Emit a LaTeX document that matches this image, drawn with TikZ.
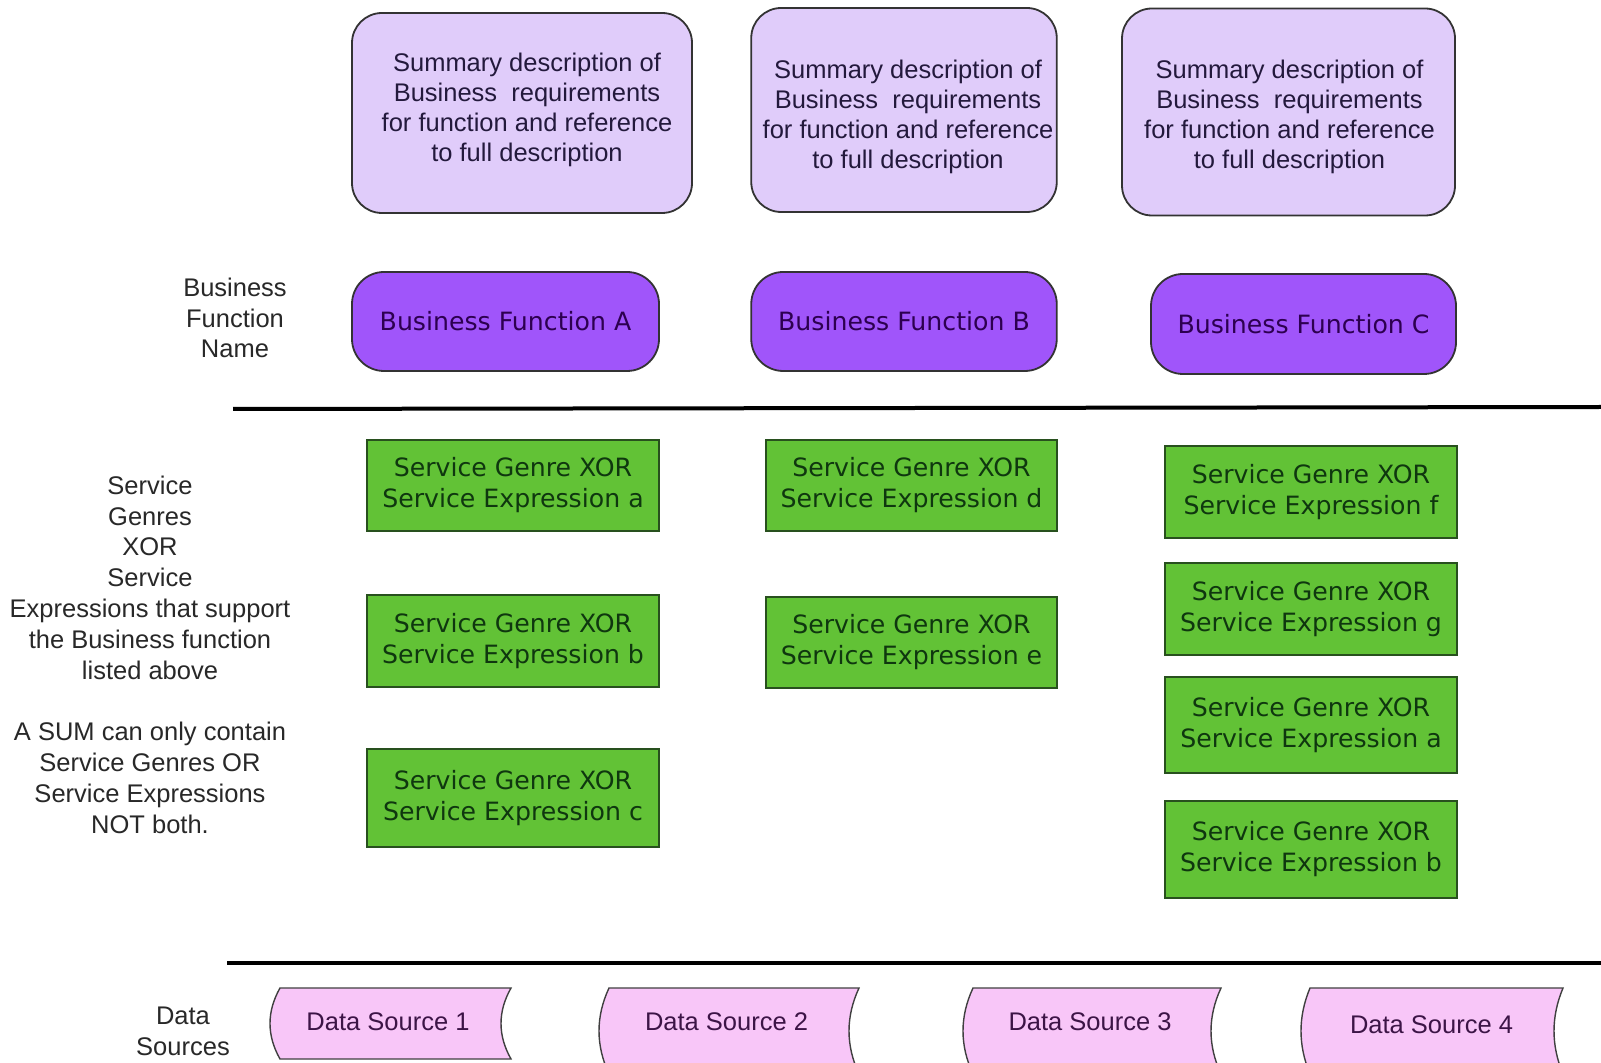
\documentclass[tikz,border=0pt]{standalone}
\usepackage{fontspec}
\setmainfont{Liberation Sans}
\newfontfamily\verd{DejaVu Sans}
\definecolor{topfill}{RGB}{224,204,250}
\definecolor{toptext}{RGB}{35,25,60}
\definecolor{bffill}{RGB}{160,85,250}
\definecolor{bftext}{RGB}{45,0,80}
\definecolor{gfill}{RGB}{98,194,54}
\definecolor{gdraw}{RGB}{40,80,30}
\definecolor{gtext}{RGB}{15,55,15}
\definecolor{dsfill}{RGB}{248,198,248}
\definecolor{dstext}{RGB}{60,20,70}
\definecolor{lefttext}{RGB}{40,40,40}
\newcommand\dsshape[5]{%
  \filldraw[dsline] (#1,#3) -- (#2,#3)
    .. controls ({#2-#5*4/3},{#3+(#4-#3)/3}) and ({#2-#5*4/3},{#4-(#4-#3)/3}) .. (#2,#4)
    -- (#1,#4)
    .. controls ({#1-#5*4/3},{#4-(#4-#3)/3}) and ({#1-#5*4/3},{#3+(#4-#3)/3}) .. cycle;}
\begin{document}
\begin{tikzpicture}[x=0.5pt,y=-0.5pt,
  arialfont/.style={font=\fontsize{12.75pt}{15pt}\selectfont},
  topbox/.style={draw=black!80, line width=0.9pt, fill=topfill, rounded corners=15pt,
    inner sep=0pt},
  toplabel/.style={align=center, inner sep=0pt, text=toptext, arialfont},
  bfbox/.style={draw=black!80, line width=0.9pt, fill=bffill, rounded corners=16pt,
    inner sep=0pt, text=bftext, font=\verd\fontsize{12.6pt}{15.5pt}\selectfont,
    minimum height=49.5pt},
  gbox/.style={draw=gdraw, line width=1pt, fill=gfill, align=center, inner sep=0pt,
    text=gtext, font=\verd\fontsize{12.6pt}{15.5pt}\selectfont, minimum width=146pt},
  dsline/.style={draw=black!75, line width=0.7pt, fill=dsfill},
  dslabel/.style={text=dstext, arialfont, inner sep=0pt},
  lefttxt/.style={text=lefttext, align=center, inner sep=0pt,
    font=\fontsize{12.75pt}{15.4pt}\selectfont},
  sepline/.style={line width=2pt, black}
]
\useasboundingbox (0,0) rectangle (1601,1063);
\clip (0,0) rectangle (1601,1063);
\fill[white] (0,0) rectangle (1601,1063);

% top description boxes
\node[topbox, minimum width=170pt, minimum height=100pt,
  label={[toplabel, xshift=2.5pt, yshift=1.5pt]center:{Summary description of\\Business\ \ requirements\\for function and reference\\to full description}}]
  (descA) at (522,113) {};
\node[topbox, minimum width=152.75pt, minimum height=102pt,
  label={[toplabel, xshift=2pt, yshift=-3.5pt]center:{Summary description of\\Business\ \ requirements\\for function and reference\\to full description}}]
  (descB) at (904,110) {};
\node[topbox, minimum width=166.5pt, minimum height=103.5pt,
  label={[toplabel, xshift=0.5pt, yshift=-2.5pt]center:{Summary description of\\Business\ \ requirements\\for function and reference\\to full description}}]
  (descC) at (1288.5,112) {};

% business function boxes
\node[bfbox, minimum width=153.5pt] (bfA) at (505.5,321.5) {Business Function A};
\node[bfbox, minimum width=152.75pt] (bfB) at (904,321.5) {Business Function B};
\node[bfbox, minimum width=152.5pt, minimum height=50pt] (bfC) at (1303.5,324) {Business Function C};

% left labels
\node[lefttxt] (lblBF) at (235,318) {Business\\Function\\Name};
\node[lefttxt] (lblSG) at (150,577.5) {Service\\Genres\\XOR\\Service\\Expressions that support\\the Business function\\listed above};
\node[lefttxt] (lblSUM) at (150,778) {A SUM can only contain\\Service Genres OR\\Service Expressions\\NOT both.};
\node[lefttxt] (lblDS) at (183,1031) {Data\\Sources};

% separator lines
\coordinate (l1a) at (233,409);
\coordinate (l1b) at (1601,407);
\coordinate (l2a) at (227,963);
\coordinate (l2b) at (1601,963);
\draw[sepline] (l1a) -- (l1b);
\draw[sepline] (l2a) -- (l2b);

% green boxes
\node[gbox, minimum height=45.5pt] (sga) at (513,485.5) {Service Genre XOR\\Service Expression a};
\node[gbox, minimum height=46pt] (sgb) at (513,641) {Service Genre XOR\\Service Expression b};
\node[gbox, minimum height=49pt] (sgc) at (513,798) {Service Genre XOR\\Service Expression c};
\node[gbox, minimum height=45.5pt, minimum width=145.5pt] (sgd) at (911.5,485.5) {Service Genre XOR\\Service Expression d};
\node[gbox, minimum height=45.5pt, minimum width=145.5pt] (sge) at (911.5,642.5) {Service Genre XOR\\Service Expression e};
\node[gbox, minimum height=46pt] (sgf) at (1311,492) {Service Genre XOR\\Service Expression f};
\node[gbox, minimum height=46pt] (sgg) at (1311,609) {Service Genre XOR\\Service Expression g};
\node[gbox, minimum height=48pt] (sgaC) at (1311,725) {Service Genre XOR\\Service Expression a};
\node[gbox, minimum height=48.5pt] (sgbC) at (1311,849.5) {Service Genre XOR\\Service Expression b};

% data sources
\dsshape{280}{511}{988}{1059}{10}
\dsshape{609}{859}{988}{1074}{10}
\dsshape{973}{1221}{988}{1074}{10}
\dsshape{1310}{1563}{988}{1074}{9}
\node[dslabel] (ds1) at (388,1022) {Data Source 1};
\node[dslabel] (ds2) at (726.5,1022) {Data Source 2};
\node[dslabel] (ds3) at (1090,1022) {Data Source 3};
\node[dslabel] (ds4) at (1431.5,1025) {Data Source 4};
\end{tikzpicture}
\end{document}
